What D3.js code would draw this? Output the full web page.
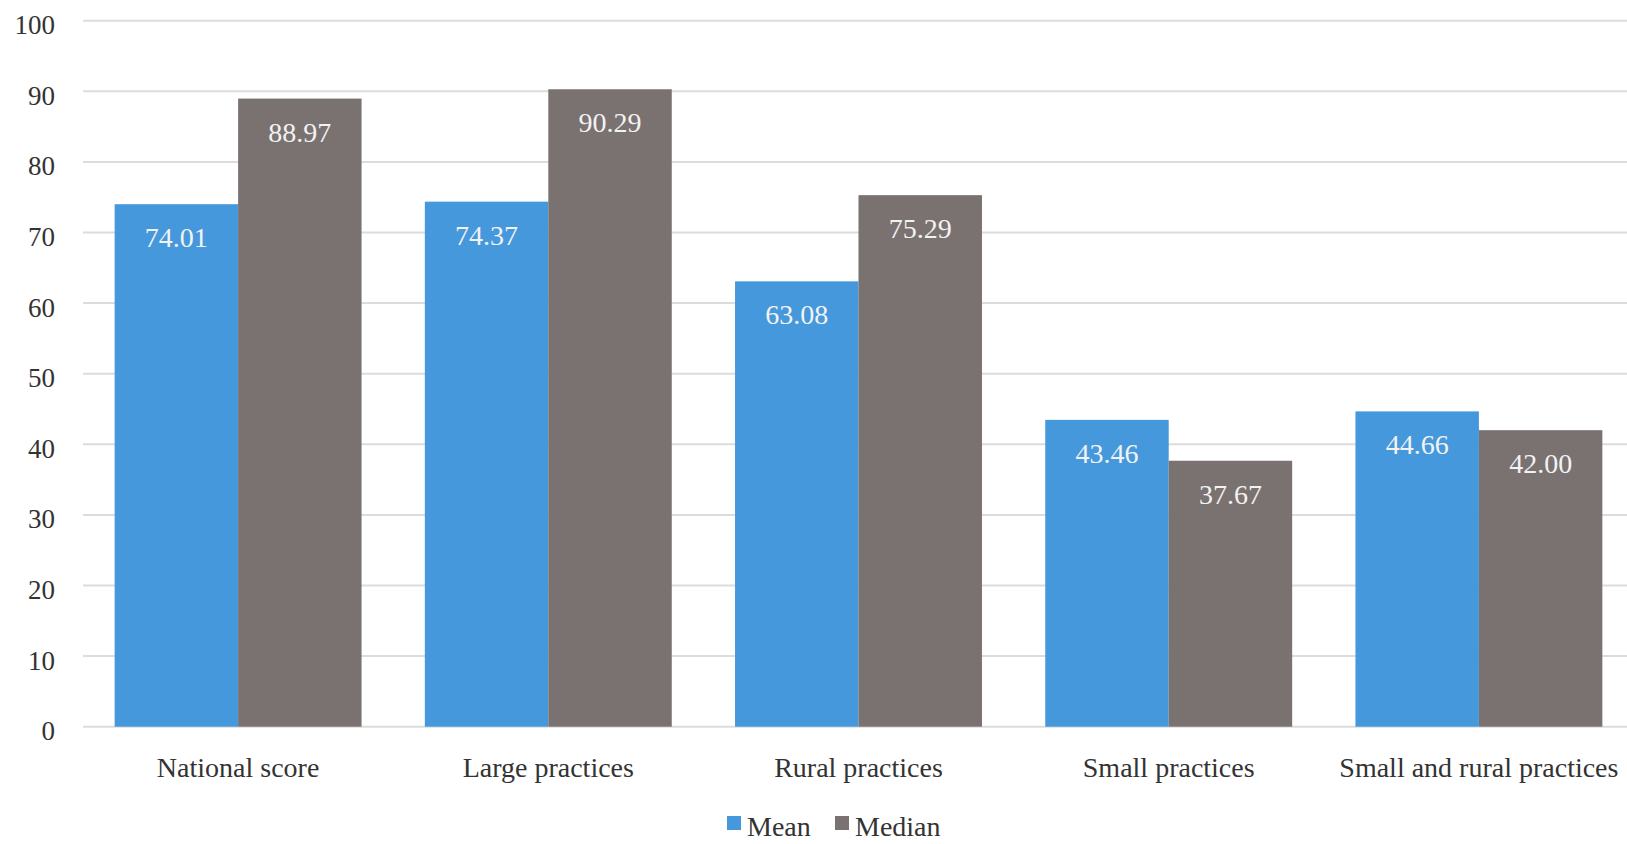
<!DOCTYPE html>
<html>
<head>
<meta charset="utf-8">
<script src="https://cdn.jsdelivr.net/npm/d3@7"></script>
<style>
  html, body { margin: 0; padding: 0; background: #fff; overflow: hidden; }
  svg { display: block; }
  text { font-family: "Liberation Serif", "Times New Roman", serif; }
</style>
</head>
<body>
<svg id="chart" width="1627" height="844"></svg>
<script>
// Practice score groups and their mean / median values
const categories = ["National score", "Large practices", "Rural practices", "Small practices", "Small and rural practices"];
const meanValues = [74.01, 74.37, 63.08, 43.46, 44.66];
const medianValues = [88.97, 90.29, 75.29, 37.67, 42.00];
const seriesNames = ["Mean", "Median"];
const yTicks = [0, 10, 20, 30, 40, 50, 60, 70, 80, 90, 100];

const colors = { Mean: "#4598db", Median: "#7a7171" };

const svg = d3.select("#chart");
const W = 1627, H = 844;
const plot = { left: 83, right: 1634, top: 20.7, bottom: 726.7 };

const rows = categories.map((c, i) => ({ cat: c, Mean: meanValues[i], Median: medianValues[i] }));

const x0 = d3.scaleBand()
  .domain(categories)
  .range([plot.left, plot.right])
  .paddingInner(0.204)
  .paddingOuter(0.102);

const x1 = d3.scaleBand()
  .domain(seriesNames)
  .range([0, x0.bandwidth()])
  .padding(0);

const y = d3.scaleLinear()
  .domain([0, 100])
  .range([plot.bottom, plot.top]);

// Horizontal gridlines
svg.append("g")
  .selectAll("line")
  .data(yTicks)
  .join("line")
  .attr("x1", plot.left)
  .attr("x2", W)
  .attr("y1", d => y(d))
  .attr("y2", d => y(d))
  .attr("stroke", "#dcdcdc")
  .attr("stroke-width", 2);

// Y axis labels
const yAxis = d3.axisLeft(y).tickValues(yTicks).tickSize(0).tickPadding(0);
const yg = svg.append("g")
  .attr("transform", "translate(55,0)")
  .call(yAxis);
yg.select(".domain").remove();
yg.selectAll("text")
  .attr("font-family", "Liberation Serif, serif")
  .attr("font-size", 27)
  .attr("fill", "#333")
  .attr("dy", "0.48em");

// Bars
const groups = svg.append("g")
  .selectAll("g")
  .data(rows)
  .join("g")
  .attr("transform", d => `translate(${x0(d.cat)},0)`);

groups.selectAll("rect")
  .data(d => seriesNames.map(s => ({ s, v: d[s] })))
  .join("rect")
  .attr("x", d => x1(d.s))
  .attr("width", x1.bandwidth())
  .attr("y", d => y(d.v))
  .attr("height", d => y(0) - y(d.v))
  .attr("fill", d => colors[d.s]);

// Value labels inside the bar tops
groups.selectAll("text.val")
  .data(d => seriesNames.map(s => ({ s, v: d[s] })))
  .join("text")
  .attr("class", "val")
  .attr("x", d => x1(d.s) + x1.bandwidth() / 2)
  .attr("y", d => y(d.v) + 43)
  .attr("text-anchor", "middle")
  .attr("font-size", 28)
  .attr("fill", "#f2f2f2")
  .text(d => d.v.toFixed(2));

// Category labels
const xAxis = d3.axisBottom(x0).tickSize(0).tickPadding(0);
const xg = svg.append("g")
  .attr("transform", `translate(0,${plot.bottom})`)
  .call(xAxis);
xg.select(".domain").remove();
xg.selectAll("text")
  .attr("font-family", "Liberation Serif, serif")
  .attr("font-size", 28)
  .attr("fill", "#333")
  .attr("dy", 0)
  .attr("y", 50);

// Legend
const legend = svg.append("g").attr("transform", "translate(727,836)");
const legendItems = [
  { s: "Mean", x: 0 },
  { s: "Median", x: 108 }
];
const li = legend.selectAll("g")
  .data(legendItems)
  .join("g")
  .attr("transform", d => `translate(${d.x},0)`);
li.append("rect")
  .attr("x", 0)
  .attr("y", -20)
  .attr("width", 14)
  .attr("height", 14)
  .attr("fill", d => colors[d.s]);
li.append("text")
  .attr("x", 20)
  .attr("y", 0)
  .attr("font-size", 28)
  .attr("fill", "#333")
  .text(d => d.s);
</script>
</body>
</html>
